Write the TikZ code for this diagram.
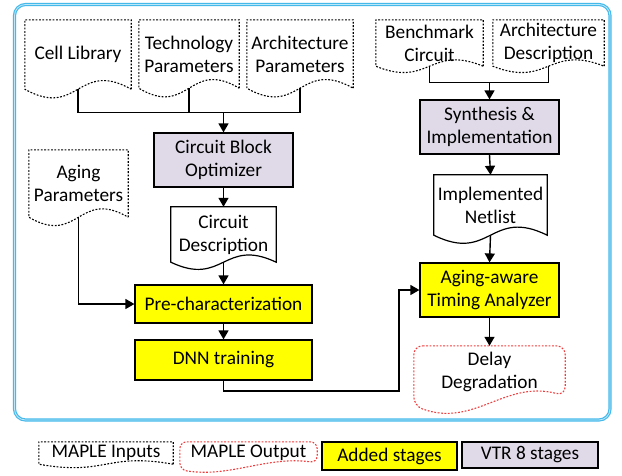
\documentclass[tikz,border=0pt]{standalone}
\usepackage{fontspec}
\setmainfont{Carlito}
\usetikzlibrary{arrows.meta,calc}
\definecolor{lav}{RGB}{224,218,232}
\definecolor{ylw}{RGB}{255,255,0}
\definecolor{framecol}{RGB}{70,185,235}
\definecolor{dred}{RGB}{240,60,60}
\newcommand\mydocline[3][]{\draw[#1] (#2.south east) -- (#2.north east) -- (#2.north west) -- (#2.south west) .. controls ($(#2.south)+(0,#3)$) and ($(#2.south)+(0,-#3)$) .. (#2.south east) -- cycle;}
\begin{document}
\begin{tikzpicture}[x=1pt,y=-1pt,
  font=\fontsize{19.3}{23}\selectfont,
  proc/.style={draw, line width=1.2pt, inner sep=0pt, align=center},
  docnode/.style={inner sep=0pt, align=center},
  dotline/.style={line width=1.1pt, dash pattern=on 1.8pt off 1.6pt},
  reddot/.style={dotline, draw=dred},
  solidline/.style={line width=1.2pt},
  conn/.style={line width=1.4pt},
  arr/.style={conn, -{Triangle[length=9pt,width=10pt]}}]
\useasboundingbox (0,0) rectangle (622,475);
% outer frame
\draw[framecol, line width=3.2pt, rounded corners=11pt] (14.5,4.5) rectangle (610,420);
\draw[framecol!35, line width=0.8pt, rounded corners=11pt] (14.5,4.5) rectangle (610,420);

% left column documents
\node[docnode, minimum width=106pt, minimum height=69pt] (cl) at (78,54.5) {Cell Library};
\mydocline[dotline]{cl}{30}
\node[docnode, minimum width=100pt, minimum height=68pt] (tp) at (189,54) {Technology\\Parameters};
\mydocline[dotline]{tp}{30}
\node[docnode, minimum width=106pt, minimum height=68pt] (arp) at (300,54) {Architecture\\Parameters};
\mydocline[dotline]{arp}{30}

\node[proc, fill=lav, minimum width=139pt, minimum height=54pt] (cbo) at (223.5,160) {Circuit Block\\Optimizer};

\node[docnode, minimum width=99pt, minimum height=67pt] (ap) at (78.5,183.5) {Aging\\Parameters};
\mydocline[dotline]{ap}{29}

\node[docnode, minimum width=105pt, minimum height=55pt] (cd) at (223.5,234.5) {Circuit\\Description};
\mydocline[solidline]{cd}{25}

\node[proc, fill=ylw, minimum width=177pt, minimum height=38pt] (pre) at (223.5,304) {Pre-characterization};
\node[proc, fill=ylw, minimum width=177pt, minimum height=40pt] (dnn) at (223.5,360) {DNN training};

% right column
\node[docnode, minimum width=107pt, minimum height=46pt] (bc) at (429.5,43) {Benchmark\\Circuit};
\mydocline[dotline]{bc}{22}
\node[docnode, minimum width=111pt, minimum height=46pt] (ad) at (548.5,43) {Architecture\\Description};
\mydocline[dotline]{ad}{22}

\node[proc, fill=lav, minimum width=139pt, minimum height=54pt] (si) at (489.5,127) {Synthesis \&\\Implementation};

\node[docnode, minimum width=113pt, minimum height=60pt] (in) at (490.5,205) {Implemented\\Netlist};
\mydocline[solidline]{in}{28}

\node[proc, fill=ylw, minimum width=139pt, minimum height=54pt] (aata) at (489.5,290) {Aging-aware\\Timing Analyzer};

\node[docnode, minimum width=151pt, minimum height=52pt] (dd) at (489.5,372) {Delay\\Degradation};
\draw[reddot, rounded corners=9pt] (dd.north west) -- (dd.north east) -- ($(dd.north east)+(0,50)$) .. controls ($(dd.north east)+(-60,34)$) and ($(dd.north west)+(60,82)$) .. ($(dd.north west)+(0,60)$) -- cycle;

% connectors
\coordinate (j1) at ($(cbo.north)+(0,-20)$);
\draw[conn] (cl.south) |- (arp.south |- j1) -- (arp.south);
\draw[conn] (tp.south) -- (tp.south |- j1);
\draw[arr] (j1) -- (cbo.north);
\draw[arr] (cbo.south) -- (cd.north);
\draw[arr] (cd.south) -- (pre.north);
\draw[arr] (pre.south) -- (dnn.north);
\draw[arr] (ap.south) |- (pre.west);
\coordinate (k1) at (399,391);
\draw[arr] (dnn.south) |- (k1) |- (aata.west);
\coordinate (j2) at ($(si.north)+(0,-17)$);
\draw[conn] (bc.south) |- (j2) -| (ad.south);
\draw[arr] (j2) -- (si.north);
\draw[arr] (si.south) -- (in.north);
\draw[arr] (in.south) -- (aata.north);
\draw[arr] (aata.south) -- (dd.north);

% legend
\node[docnode, minimum width=134pt, minimum height=22pt] (li) at (106,453) {MAPLE Inputs};
\mydocline[dotline]{li}{12}
\node[docnode, minimum width=137pt, minimum height=22pt] (lo) at (248.5,453) {MAPLE Output};
\draw[reddot, rounded corners=7pt] (lo.north west) -- (lo.north east) -- ($(lo.north east)+(0,21)$) .. controls ($(lo.north east)+(-50,14)$) and ($(lo.north west)+(50,36)$) .. ($(lo.north west)+(0,28)$) -- cycle;
\node[proc, fill=ylw, minimum width=135pt, minimum height=28pt] (la) at (389.5,456) {Added stages};
\node[proc, fill=lav, minimum width=136pt, minimum height=26pt] (lv) at (530,455) {VTR 8 stages};
\end{tikzpicture}
\end{document}
